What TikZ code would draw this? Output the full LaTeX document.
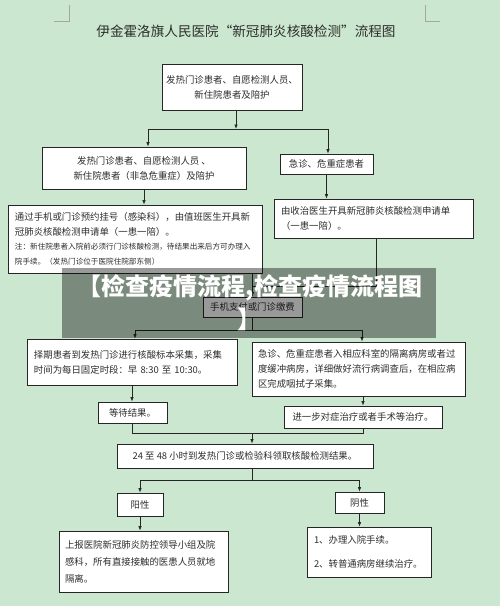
\documentclass[tikz,border=0pt]{standalone}
\usepackage{fontspec}
\setmainfont{Noto Sans CJK SC}
\usepackage{tikz}
\usetikzlibrary{arrows.meta,positioning}

\definecolor{bggreen}{RGB}{204,231,207}
\definecolor{inkgray}{RGB}{45,45,45}
\newcommand{\notefont}{\fontsize{7.6}{14}\selectfont}

\begin{document}
\begin{tikzpicture}[x=1pt,y=-1pt,
    box/.style={draw=black!85,fill=white,line width=0.8pt,inner sep=0pt,
      text=inkgray,font=\fontsize{9.4}{15}\selectfont},
    arr/.style={-{Latex[length=4.5pt,width=3.5pt]},line width=0.7pt,black!85},
    ln/.style={line width=0.7pt,black!85},
    cornermark/.style={black!35,line width=0.6pt}]
  % Page
  \fill[bggreen] (0,0) rectangle (500,606);
  \useasboundingbox (0,0) rectangle (500,606);
  \draw[cornermark] (69,5) -- (69,21) -- (54,21);
  \draw[cornermark] (425,5) -- (425,21) -- (440,21);
  \node[text=inkgray,font=\fontsize{13.6}{16}\selectfont] (title) at (246,31)
    {伊金霍洛旗人民医院“新冠肺炎核酸检测”流程图};
  % Boxes
  \node[box,align=center,minimum width=140pt,minimum height=46pt] (A) at (232,87)
    {发热门诊患者、自愿检测人员、\\新住院患者及陪护};
  \node[box,align=center,minimum width=204pt,minimum height=42pt] (B) at (144,168)
    {发热门诊患者、自愿检测人员 、\\新住院患者（非急危重症）及陪护};
  \node[box,align=center,minimum width=93pt,minimum height=20pt] (C) at (326.5,164)
    {急诊、危重症患者};
  \node[box,align=left,minimum width=199pt,minimum height=39pt,text width=185pt] (D) at (373.5,218.5)
    {由收治医生开具新冠肺炎核酸检测申请单\\（一患一陪）。};
  \node[box,align=left,minimum width=254pt,minimum height=68pt,text width=240pt] (E) at (135,239)
    {通过手机或门诊预约挂号（感染科），由值班医生开具新\\
     冠肺炎核酸检测申请单（一患一陪）。\\
     \notefont 注：新住院患者入院前必须行门诊核酸检测，待结果出来后方可办理入\\
     \notefont 院手续。（发热门诊位于医院住院部东侧）};
  \node[box,align=center,minimum width=99pt,minimum height=20pt] (F) at (252.5,307)
    {手机支付或门诊缴费};
  \node[box,align=left,minimum width=210pt,minimum height=46pt,text width=196pt] (G) at (132,362)
    {择期患者到发热门诊进行核酸标本采集，采集\\时间为每日固定时段：早 8:30 至 10:30。};
  \node[box,align=left,minimum width=213pt,minimum height=54pt,text width=201pt] (H) at (358.5,369)
    {急诊、危重症患者入相应科室的隔离病房或者过\\度缓冲病房，详细做好流行病调查后，在相应病\\区完成咽拭子采集。};
  \node[box,align=center,minimum width=69pt,minimum height=21pt] (I) at (132.5,412.5)
    {等待结果。};
  \node[box,align=center,minimum width=158pt,minimum height=22pt] (J) at (363,417)
    {进一步对症治疗或者手术等治疗。};
  \node[box,align=center,minimum width=256pt,minimum height=24pt] (K) at (245,456)
    {24 至 48 小时到发热门诊或检验科领取核酸检测结果。};
  \node[box,align=center,minimum width=46pt,minimum height=23pt] (L) at (140,504.5)
    {阳性};
  \node[box,align=center,minimum width=49pt,minimum height=21pt] (M) at (359.5,502.5)
    {阴性};
  \node[box,align=left,minimum width=169pt,minimum height=61pt,text width=157pt,
    font=\fontsize{9.4}{17}\selectfont] (N) at (143.5,561.5)
    {上报医院新冠肺炎防控领导小组及院\\感科，所有直接接触的医患人员就地\\隔离。};
  \node[box,align=left,minimum width=124pt,minimum height=50pt,text width=110pt] (O) at (369,552)
    {1、办理入院手续。\\[9pt]2、转普通病房继续治疗。};
  % Junctions
  \coordinate (jA) at (236,129);
  \coordinate (jAl) at (148,129);
  \coordinate (jAr) at (328,129);
  \coordinate (jD) at (376,286);
  \coordinate (jF) at (252.5,330);
  \coordinate (jFl) at (135,330);
  \coordinate (jFr) at (362,330);
  \coordinate (jK) at (252,433);
  \coordinate (jL) at (252,480);
  % Connectors
  \draw[arr] (A.south -| jA) -- (jA);
  \draw[ln] (jAl) -- (jAr);
  \draw[arr] (jAl) -- (jAl |- B.north);
  \draw[arr] (jAr) -- (jAr |- C.north);
  \draw[arr] (C.south) -- (C.south |- D.north);
  \draw[arr] (B.south) -- (B.south |- E.north);
  \draw[arr] (E.south -| F.north) -- (F.north);
  \draw[ln] (D.south -| jD) -- (jD) -- (jD -| F.north);
  \draw[ln] (F.south) -- (jF);
  \draw[ln] (jFl) -- (jFr);
  \draw[arr] (jFl) -- (jFl |- G.north);
  \draw[arr] (jFr) -- (jFr |- H.north);
  \draw[arr] (G.south) -- (G.south |- I.north);
  \draw[arr] (J.north |- H.south) -- (J.north);
  \draw[ln] (I.south) -- (I.south |- jK) -- (J.south |- jK) -- (J.south);
  \draw[arr] (jK) -- (jK |- K.north);
  \draw[ln] (K.south -| jL) -- (jL);
  \draw[ln] (L.north |- jL) -- (M.north |- jL);
  \draw[arr] (L.north |- jL) -- (L.north);
  \draw[arr] (M.north |- jL) -- (M.north);
  \draw[arr] (L.south) -- (L.south |- N.north);
  \draw[arr] (M.south) -- (M.south |- O.north);
  % Overlay
  \fill[black,opacity=0.4] (62,268) rectangle (436,338);
  \node[text=white,align=center,font=\fontsize{24}{33}\selectfont\bfseries] (banner) at (250,303)
    {【检查疫情流程,检查疫情流程图\\】};
\end{tikzpicture}
\end{document}
